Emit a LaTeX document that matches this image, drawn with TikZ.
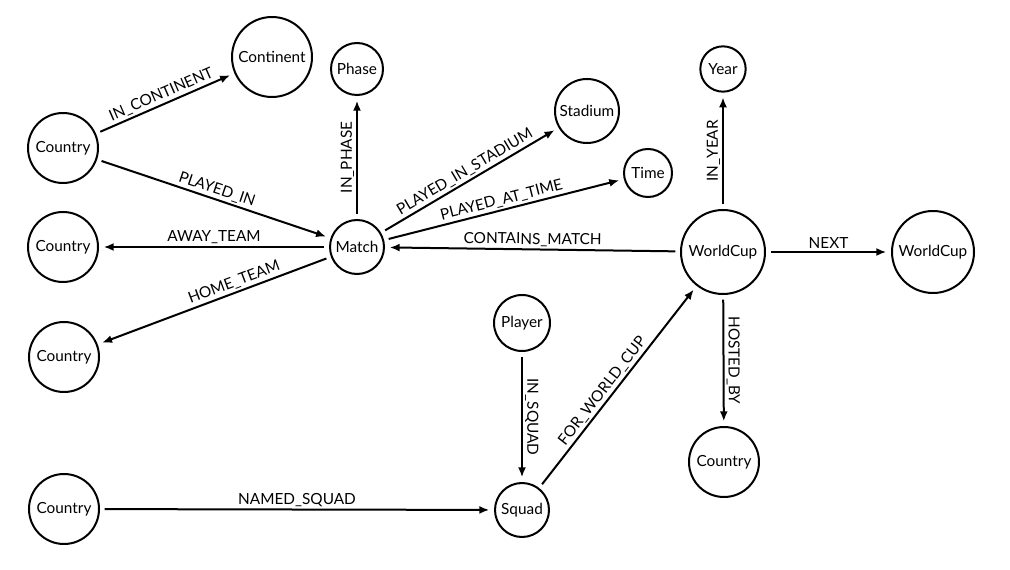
\documentclass[tikz,border=0pt]{standalone}
\usepackage{fontspec}
\setmainfont{Lato}
\usepackage{tikz}
\usetikzlibrary{arrows.meta}

\begin{document}
\begin{tikzpicture}[
    x=0.75pt, y=-0.75pt,
    entity/.style={
        draw=black,
        circle,
        line width=1.5pt,
        inner sep=0pt,
        font=\fontsize{11.5}{13}\selectfont
    },
    arrow/.style={-{Latex[length=7.5pt, width=6pt]}, line width=1.5pt,
        shorten <=3.5pt, shorten >=3.5pt},
    rel/.style={sloped, above, inner sep=1.5pt, font=\fontsize{11.5}{13}\selectfont}
]
\useasboundingbox (0,0) rectangle (1010,570);

\node[entity, minimum size=52.5pt] (country) at (63,148) {Country};
\node[entity, minimum size=60pt] (continent) at (272,57) {Continent};
\node[entity, minimum size=52.5pt] (away) at (63,247) {Country};
\node[entity, minimum size=52.5pt] (home) at (64,357) {Country};
\node[entity, minimum size=52.5pt] (nation) at (64,509) {Country};

\node[entity, minimum size=39pt] (phase) at (357,69) {Phase};
\node[entity, minimum size=40.5pt] (match) at (357,247) {Match};
\node[entity, minimum size=48pt] (stadium) at (587,111) {Stadium};
\node[entity, minimum size=36pt] (time) at (648,173) {Time};

\node[entity, minimum size=34pt] (year) at (723,69) {Year};
\node[entity, minimum size=63pt] (worldcup) at (723,252) {WorldCup};
\node[entity, minimum size=61.5pt] (nextcup) at (933,252) {WorldCup};
\node[entity, minimum size=52.5pt] (host) at (724,462) {Country};

\node[entity, minimum size=42pt] (player) at (522,323) {Player};
\node[entity, minimum size=40.5pt] (squad) at (522,510) {Squad};

\draw[arrow] (country) -- node[rel] {IN\_CONTINENT} (continent);
\draw[arrow] (country) -- node[rel] {PLAYED\_IN} (match);
\draw[arrow] (match) -- node[rel] {AWAY\_TEAM} (away);
\draw[arrow] (match) -- node[rel, pos=0.4] {HOME\_TEAM} (home);

\draw[arrow] (match) -- node[rel] {IN\_PHASE} (phase);
\draw[arrow] (match) -- node[rel] {PLAYED\_IN\_STADIUM} (stadium);
\draw[arrow] (match) -- node[rel] {PLAYED\_AT\_TIME} (time);
\draw[arrow] (worldcup) -- node[rel] {CONTAINS\_MATCH} (match);

\draw[arrow] (worldcup) -- node[rel] {IN\_YEAR} (year);
\draw[arrow] (worldcup) -- node[rel] {NEXT} (nextcup);
\draw[arrow] (worldcup) -- node[rel] {HOSTED\_BY} (host);

\draw[arrow] (player) -- node[rel] {IN\_SQUAD} (squad);
\draw[arrow] (nation) -- node[rel] {NAMED\_SQUAD} (squad);
\draw[arrow] (squad) -- node[rel, pos=0.45] {FOR\_WORLD\_CUP} (worldcup);

\end{tikzpicture}
\end{document}
